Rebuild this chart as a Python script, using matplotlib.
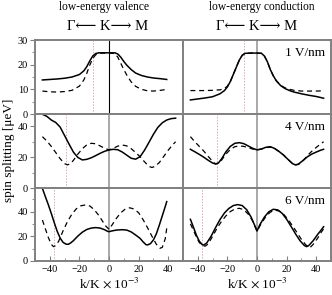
import matplotlib
matplotlib.use("Agg")
import matplotlib.pyplot as plt
from matplotlib.ticker import MultipleLocator

plt.rcParams['font.family'] = ['Liberation Serif', 'DejaVu Serif', 'DejaVu Sans']
plt.rcParams['mathtext.fontset'] = 'stix'

# ---- data ----
# row 1: 1 V/nm
v1_k = [-45, -40, -35, -30, -25, -20, -17, -15, -13, -11, -9, -7, -4, 0, 4, 6, 8, 10, 12, 15, 18, 22, 26, 30, 35, 39]
v1_solid = [13.8, 14.0, 14.2, 14.5, 15.0, 16.0, 17.5, 19.2, 21.5, 23.5, 24.5, 24.8, 24.8, 24.8, 24.8, 24.3, 23.0,
            21.3, 19.8, 18.0, 16.6, 15.6, 15.0, 14.6, 14.3, 14.0]
v1_dash = [9.3, 9.0, 8.9, 9.1, 9.6, 11.3, 13.8, 16.5, 19.8, 22.5, 24.0, 24.6, 24.7, 24.7, 24.5, 23.0, 20.5,
           18.0, 15.8, 13.0, 11.2, 10.0, 9.4, 9.3, 9.6, 10.0]

c1_k = [-45, -40, -35, -30, -25, -22, -20, -18, -15, -12, -10, -8, -4, 0, 3, 5, 7, 9, 11, 13, 16, 19, 22, 25,
        30, 35, 40, 45]
c1_solid = [5.7, 6.1, 6.5, 7.0, 8.2, 9.5, 11.0, 13.2, 17.5, 21.8, 23.8, 24.6, 24.7, 24.7, 24.6, 23.5, 21.2, 18.0,
            15.5, 13.5, 11.5, 10.3, 9.5, 8.9, 8.2, 7.6, 7.1, 6.4]
c1_dash = [9.5, 9.5, 9.5, 9.6, 9.8, 10.3, 11.3, 13.2, 17.5, 21.8, 23.8, 24.6, 24.7, 24.7, 24.6, 23.5, 21.2, 18.0,
           15.5, 13.5, 11.6, 10.6, 10.0, 9.6, 9.3, 9.3, 9.3, 9.4]

# row 2: 4 V/nm
v4_k = [-45, -42, -39, -36, -33, -30, -27, -24, -21, -18, -15, -12, -9, -6, -3, 0, 3, 6, 9, 12, 15, 18, 21, 24,
        27, 30, 33, 36, 39, 42, 45]
v4_solid = [47.8, 46.5, 44.1, 42.5, 39.5, 34.0, 28.5, 23.2, 19.8, 18.2, 18.6, 19.6, 21.0, 22.5, 23.8, 24.7, 25.1,
            24.8, 23.3, 21.3, 19.3, 18.7, 20.3, 24.5, 29.6, 34.8, 39.3, 42.3, 44.1, 45.0, 45.3]
v4d_k = [-45, -42, -39, -36, -33, -30, -28, -26, -24, -21, -18, -15, -12, -9, -6, -3, 0, 3, 6, 9, 12, 15, 18, 21,
         24, 27, 29, 31, 34, 37, 40, 43, 45]
v4_dash = [33.3, 30.5, 27.0, 23.0, 19.0, 15.8, 15.0, 15.8, 18.0, 22.0, 25.5, 28.0, 29.0, 28.7, 27.3, 25.8, 24.7,
           25.8, 27.2, 27.9, 27.3, 25.5, 23.0, 20.3, 17.0, 14.0, 13.3, 14.0, 16.5, 20.5, 24.5, 28.0, 30.0]

c4_k = [-45, -42, -39, -36, -33, -30, -28, -26, -24, -21, -18, -15, -12, -9, -6, -3, 0, 3, 6, 9, 12, 15, 18, 21,
        24, 26, 28, 31, 34, 37, 40, 43, 45]
c4_solid = [25.1, 23.5, 21.8, 20.0, 18.0, 16.2, 15.6, 16.3, 18.8, 23.5, 27.0, 29.0, 29.4, 28.8, 27.3, 25.8, 24.7,
            25.3, 26.4, 26.8, 25.6, 23.6, 21.3, 18.5, 15.8, 15.0, 15.5, 17.8, 20.2, 22.0, 23.3, 24.5, 25.1]
c4_dash = [33.3, 30.0, 27.0, 24.0, 20.5, 17.3, 15.6, 16.0, 18.0, 22.0, 25.0, 26.8, 27.3, 27.0, 26.2, 25.3, 24.7,
           25.3, 26.2, 26.5, 25.5, 23.6, 21.3, 18.5, 15.8, 15.0, 15.3, 17.5, 21.0, 23.8, 26.3, 28.6, 30.0]

# row 3: 6 V/nm
v6_k = [-45, -43, -41, -39, -37, -35, -33, -31, -29, -27.5, -26, -24, -21, -18, -15, -12, -9, -6, -3, -1, 0, 2,
        5, 9, 12, 15, 18, 21, 23, 25, 26, 28, 30, 32, 34, 36, 38, 39]
v6_solid = [58.7, 52.0, 45.5, 38.5, 31.0, 24.0, 18.5, 15.0, 13.6, 13.5, 14.5, 16.5, 20.2, 23.3, 25.5, 26.6, 27.0,
            26.6, 25.3, 24.0, 23.7, 24.3, 25.0, 25.3, 25.0, 23.5, 21.0, 18.3, 15.5, 13.2, 13.0, 14.0, 17.0, 22.0,
            29.0, 36.5, 44.0, 48.0]
v6d_k = [-45, -43, -41, -39, -37.5, -36, -34, -31, -28, -25, -22, -19, -16, -13, -10, -7, -4, -2, 0, 2, 5, 8, 11,
         14, 17, 20, 23, 26, 29, 32, 34.5, 36, 38, 39]
v6_dash = [33.1, 26.0, 19.0, 13.5, 11.6, 12.5, 16.0, 24.5, 32.0, 38.0, 42.3, 44.6, 45.3, 44.5, 41.5, 37.0, 31.5,
           28.0, 25.6, 29.0, 34.5, 39.0, 42.0, 43.0, 42.0, 39.0, 33.5, 27.0, 20.0, 13.5, 10.3, 11.0, 18.0, 26.4]

c6_k = [-45, -43, -41, -39, -37, -36, -34, -31, -28, -25, -22, -19, -16, -13, -10, -7, -4, -2, 0, 2, 5, 8, 11, 14,
        17, 20, 23, 26, 29, 32, 33.5, 35, 38, 41, 43, 45]
c6_solid = [33.7, 27.5, 21.0, 16.0, 13.2, 12.9, 14.5, 20.0, 27.0, 33.5, 38.8, 42.5, 44.8, 45.6, 44.8, 41.5, 35.5,
            30.0, 24.2, 29.5, 35.5, 39.8, 41.8, 41.3, 38.5, 33.8, 28.0, 22.0, 16.5, 12.5, 11.6, 12.5, 16.5, 21.5,
            24.5, 27.7]
c6d_k = [-45, -43, -41, -39, -37, -35, -33, -30, -27, -24, -21, -18, -15, -12, -9, -6, -3, 0, 3, 6, 9, 12, 15, 18,
         21, 24, 27, 30, 33, 35.8, 38, 41, 43, 45]
c6_dash = [30.0, 25.0, 19.5, 15.0, 12.5, 12.0, 13.8, 20.0, 26.5, 32.0, 36.5, 40.0, 42.0, 42.6, 41.5, 38.0, 32.5,
           24.2, 30.5, 36.0, 39.5, 41.0, 40.5, 37.8, 33.5, 28.5, 23.0, 17.5, 13.0, 10.8, 13.5, 18.5, 22.5, 26.0]

fields = ['1 V/nm', '4 V/nm', '6 V/nm']
y_max = [30, 48, 59]
y_major = [10, 20, 20]
y_minor = [5, 10, 10]
marker_valence = [-11, -29, -37.5]
marker_conduction = [-9, -27.3, -37]

rows = [
    ((v1_k, v1_solid, v1_k, v1_dash), (c1_k, c1_solid, c1_k, c1_dash)),
    ((v4_k, v4_solid, v4d_k, v4_dash), (c4_k, c4_solid, c4_k, c4_dash)),
    ((v6_k, v6_solid, v6d_k, v6_dash), (c6_k, c6_solid, c6d_k, c6_dash)),
]

W, H = 332, 295
fig = plt.figure(figsize=(W / 100, H / 100), dpi=100)

col_px = [35, 183, 331]
row_px = [40, 114, 188, 261]
spine_col = '#808080'

for r in range(3):
    for c in range(2):
        x0, x1 = col_px[c], col_px[c + 1]
        y0, y1 = row_px[r], row_px[r + 1]
        ax = fig.add_axes([x0 / W, 1 - y1 / H, (x1 - x0) / W, (y1 - y0) / H])
        ks, ys, kd, yd = rows[r][c]
        ax.plot(ks, ys, color='black', lw=1.1)
        ax.plot(kd, yd, color='black', lw=0.9, ls=(0, (4, 3)))
        zero_col = 'black' if (r == 0 and c == 0) else '#999999'
        ax.axvline(0, color=zero_col, lw=0.8 if zero_col == 'black' else 1.2, zorder=0)
        mk = marker_valence[r] if c == 0 else marker_conduction[r]
        ax.axvline(mk, color='#e0a8a8', lw=0.7, ls=(0, (1.5, 1.5)), zorder=0)
        ax.set_xlim(-50, 50)
        ax.set_ylim(0, y_max[r])
        for s in ax.spines.values():
            s.set_color(spine_col)
            s.set_linewidth(1.4)
        ax.yaxis.set_major_locator(MultipleLocator(y_major[r]))
        ax.yaxis.set_minor_locator(MultipleLocator(y_minor[r]))
        ax.xaxis.set_major_locator(MultipleLocator(20))
        ax.xaxis.set_minor_locator(MultipleLocator(10))
        ax.tick_params(axis='y', which='both', direction='out', color=spine_col, labelsize=7.5, pad=1.5)
        ax.tick_params(axis='y', which='major', length=3.5)
        ax.tick_params(axis='y', which='minor', length=2.5)
        ax.tick_params(axis='x', which='both', direction='in', color=spine_col, labelsize=7.5, pad=3)
        ax.tick_params(axis='x', which='major', length=3.5)
        ax.tick_params(axis='x', which='minor', length=2.5)
        if c == 1:
            ax.tick_params(axis='y', which='both', left=False, labelleft=False)
            ax.text(0.96, 0.9, fields[r], transform=ax.transAxes, ha='right', va='top', fontsize=9.5)
        if r < 2:
            ax.tick_params(axis='x', which='both', bottom=False, labelbottom=False)
        else:
            ax.set_xlabel(r'k/K $\times$ 10$^{-3}$', fontsize=9.5, labelpad=1)

fig.text(104 / W, 1 - 7 / H, 'low-energy valence', ha='center', va='center', fontsize=8.3)
fig.text(262 / W, 1 - 7 / H, 'low-energy conduction', ha='center', va='center', fontsize=8.3)
fig.text(108 / W, 1 - 26 / H, 'Γ⟵ K⟶ M', ha='center', va='center', fontsize=10.5)
fig.text(257 / W, 1 - 26 / H, 'Γ⟵ K⟶ M', ha='center', va='center', fontsize=10.5)
fig.text(9 / W, 1 - 150 / H, 'spin splitting [μeV]', rotation=90, ha='center', va='center', fontsize=9.5)

fig.savefig('out.png', dpi=100)
